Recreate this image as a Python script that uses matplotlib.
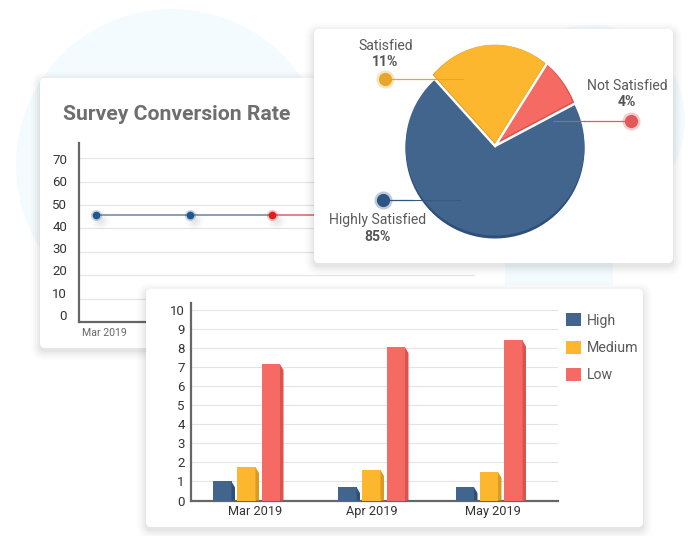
import math
import matplotlib
matplotlib.use("Agg")
import matplotlib.pyplot as plt
from matplotlib.patches import FancyBboxPatch, Ellipse, Patch
from matplotlib.transforms import Affine2D

plt.rcParams['font.family'] = ['Roboto', 'DejaVu Sans']

# ---- data ----
line_title = "Survey Conversion Rate"
line_days = [0, 31, 58, 85]
line_values = [45.8, 45.8, 45.8, 45.8]
line_point_colors = ['#24568e', '#24568e', '#d8211f', '#d8211f']
line_ticks = [0, 10, 20, 30, 40, 50, 60, 70]

pie_labels = ['Highly Satisfied', 'Not Satisfied', 'Satisfied']
pie_label_pcts = ['85%', '4%', '11%']
pie_sweep = [71.1, 8.3, 20.6]
pie_colors = ['#41658d', '#f56a63', '#fdb72e']
pie_dark = ['#2f4f78', '#d9534f', '#d99a26']

months = ['Mar 2019', 'Apr 2019', 'May 2019']
series_names = ['High', 'Medium', 'Low']
high = [1.0, 0.7, 0.7]
medium = [1.75, 1.6, 1.5]
low = [7.15, 8.05, 8.4]
group_pos = [0, 1.0, 1.94]
month_label_pos = [0.06, 0.99, 1.96]
bar_ticks = list(range(0, 11))
side_colors = ['#2f4f78', '#d99a26', '#d9534f']

W, H = 700, 536
fig = plt.figure(figsize=(7, 5.36), dpi=100, facecolor='white')


def axes_px(x0, y0, x1, y1, z):
    ax = fig.add_axes([x0 / W, 1 - y1 / H, (x1 - x0) / W, (y1 - y0) / H], zorder=z)
    ax.patch.set_alpha(0)
    return ax


def card(ax, x0, y0, x1, y1):
    for grow, alpha in [(9, .012), (7, .016), (5, .02), (3, .025), (1, .03)]:
        ax.add_patch(FancyBboxPatch((x0 - grow, y0 - grow + 3), x1 - x0 + 2 * grow, y1 - y0 + 2 * grow,
                                    boxstyle=f"round,pad=0,rounding_size={5 + grow}",
                                    fc='black', ec='none', alpha=alpha))
    ax.add_patch(FancyBboxPatch((x0, y0), x1 - x0, y1 - y0, boxstyle="round,pad=0,rounding_size=5",
                                fc='white', ec='none'))


# ---- background ----
bg = axes_px(0, 0, W, H, 0)
bg.set_xlim(0, W); bg.set_ylim(H, 0); bg.axis('off')
blob = '#f4fbfe'
bg.add_patch(Ellipse((172, 165), 312, 312, fc=blob, ec='none'))
bg.add_patch(Ellipse((590, 120), 190, 190, fc=blob, ec='none'))
bg.add_patch(plt.Rectangle((505, 230), 108, 55, fc=blob, ec='none'))
card(bg, 40, 78, 400, 348)
bg.add_patch(plt.Rectangle((390, 78), 112, 215, fc='white', ec='none'))
bg.text(63, 114, line_title, fontsize=15.2, fontweight='bold', color='#6e6e6e', va='center', ha='left')

# ---- line chart ----
ax = axes_px(79, 143, 475, 322, 1)
PX_PER_DAY = 94 / 31
ax.set_xlim(-17 / PX_PER_DAY, 379 / PX_PER_DAY)
ax.set_ylim(0, 179 / 2.34)
for s in ['top', 'right']:
    ax.spines[s].set_visible(False)
for s in ['left', 'bottom']:
    ax.spines[s].set_color('#666666'); ax.spines[s].set_linewidth(1.6)
ax.set_yticks(line_ticks[1:])
ax.set_yticklabels([])
ax.tick_params(axis='y', length=0)
ax.grid(axis='y', color='#e4e4e4', lw=0.8)
ax.set_axisbelow(True)
ax.set_xticks([8 / PX_PER_DAY])
ax.set_xticklabels(['Mar 2019'], fontsize=7.6, color='#666666')
ax.tick_params(axis='x', length=0, pad=4)
for d0, d1, v0, v1, c in zip(line_days[:-1], line_days[1:], line_values[:-1], line_values[1:],
                             ['#7d95b3', '#7d95b3', '#e07a78']):
    ax.plot([d0, d1], [v0, v1], color=c, lw=1.3, zorder=3)
for d, v, c in zip(line_days, line_values, line_point_colors):
    for grow, a in [(14, .012), (11, .018), (8, .025), (5, .03)]:
        ax.plot(d + 4 / PX_PER_DAY, v - 2.2, 'o', ms=grow, color='black', alpha=a, mew=0, zorder=2)
    ax.plot(d, v, 'o', ms=8, color=c, alpha=.25, mew=0, zorder=4)
    ax.plot(d, v, 'o', ms=5.5, color=c, mew=0, zorder=5)
# the reference's value labels sit on a tighter scale than its gridlines
lab = axes_px(79, 143, 475, 322, 1)
lab.set_xlim(0, 1); lab.set_ylim(-7 / 2.23, 172 / 2.23)
lab.set_yticks(line_ticks); lab.set_yticklabels(line_ticks, fontsize=9.5, color='#333333')
lab.set_xticks([])
lab.tick_params(axis='y', length=0, pad=8.5)
for s in lab.spines.values():
    s.set_visible(False)

# ---- cards over the line chart ----
cards = axes_px(0, 0, W, H, 2)
cards.set_xlim(0, W); cards.set_ylim(H, 0); cards.axis('off')
card(cards, 314, 29, 673, 263)
card(cards, 146, 289, 643, 527)

# ---- pie ----
pie = axes_px(495 - 120, 146 - 120, 495 + 120, 146 + 120, 3)
A, B, R_LOW = 89.0, 102.5, 89.5
LIFT = 3.2


def shape_wedges(wedges, shrink=0.0):
    """Blue is round; the two raised slices follow a taller ellipse."""
    wedges[0].set_radius(R_LOW)
    for w in wedges[1:]:
        for name in ('theta1', 'theta2'):
            t = math.radians(getattr(w, name))
            val = math.degrees(math.atan2(math.sin(t), math.cos(t) * B / A))
            getattr(w, 'set_' + name)(val % 360)
        w.set_radius(B - shrink)
        w.set_transform(Affine2D().scale(A / B, 1) + pie.transData)


# blue: a dark copy pushed down gives the rim, the face stays on the centre
blue_rim, _ = pie.pie(pie_sweep, colors=pie_dark, startangle=132, radius=1, center=(0, -3),
                      wedgeprops=dict(edgecolor='none', linewidth=0))
shape_wedges(blue_rim)
for w in blue_rim[1:]:
    w.set_visible(False)
blue_rim[0].set_zorder(1)

# white separators and dark bevels of the raised slices, then their lifted faces
bases, _ = pie.pie(pie_sweep, colors=pie_dark, startangle=132, radius=1, center=(0, 0),
                   wedgeprops=dict(edgecolor='white', linewidth=1.8))
shape_wedges(bases)
faces, _ = pie.pie(pie_sweep, colors=pie_colors, startangle=132, radius=1, center=(0, LIFT),
                   wedgeprops=dict(edgecolor='none', linewidth=0))
shape_wedges(faces, shrink=LIFT + 1.3)
faces[0].set_center((0, 0))
faces[0].set_radius(R_LOW)
bases[0].set_visible(False)
faces[0].set_zorder(2)
for i in (1, 2):
    bases[i].set_zorder(2 * i + 1)
    faces[i].set_zorder(2 * i + 2)
# the separator between blue and the raised slices
pie.set_xlim(-120, 120); pie.set_ylim(-120, 120)

over = axes_px(0, 0, W, H, 4)
over.set_xlim(0, W); over.set_ylim(H, 0); over.axis('off')
text_c = '#5a5a5a'
bold_c = '#555555'
# leaders and dots: (dot x, slice edge x, inner end x, y, colour, inner colour)
for (x0, xm, x1, y, c, ci) in [(385, 436, 463, 78.5, '#e8a52c', '#e3a52b'),
                               (631, 584, 553, 120.5, '#e2595a', '#d9534f'),
                               (383, 412, 460, 200, '#2f5583', '#38597f')]:
    over.plot([x0, xm], [y, y], color=c, lw=0.9)
    over.plot([xm, x1], [y, y], color=ci, lw=0.8)
    over.plot(x0, y, 'o', ms=13, color=c, alpha=.3, mew=0)
    over.plot(x0, y, 'o', ms=9.5, color=c, mew=0)
FS = 10.1
over.text(385.5, 45.5, pie_labels[2], fontsize=FS, color=text_c, ha='center', va='center')
over.text(385.5, 62.5, pie_label_pcts[2], fontsize=FS, color=bold_c, fontweight='bold', ha='center', va='center')
over.text(627, 85.5, pie_labels[1], fontsize=FS, color=text_c, ha='center', va='center')
over.text(627, 102.5, pie_label_pcts[1], fontsize=FS, color=bold_c, fontweight='bold', ha='center', va='center')
over.text(378, 220, pie_labels[0], fontsize=FS, color=text_c, ha='center', va='center')
over.text(378, 237, pie_label_pcts[0], fontsize=FS, color=bold_c, fontweight='bold', ha='center', va='center')

# ---- bars ----
bx = axes_px(191, 303, 558, 500.5, 3)
UNIT = 19.05
GROUP = 125.0
bx.set_ylim(0, 197.5 / UNIT)
bx.set_xlim(-57 / GROUP, 310 / GROUP)
for s in ['top', 'right']:
    bx.spines[s].set_visible(False)
for s in ['left', 'bottom']:
    bx.spines[s].set_color('#666666'); bx.spines[s].set_linewidth(1.6)
bx.set_yticks(bar_ticks)
bx.set_yticklabels(bar_ticks, fontsize=9.5, color='#333333')
bx.tick_params(axis='y', length=0, pad=4.5)
bx.grid(axis='y', color='#e4e4e4', lw=0.8)
bx.set_axisbelow(True)
bx.set_xticks(month_label_pos)
bx.set_xticklabels(months, fontsize=9.2, color='#333333')
bx.tick_params(axis='x', length=0, pad=3)
offsets = [-24 / GROUP, 0, 24.5 / GROUP]
bw = 22 / GROUP
side = 3.5 / GROUP
cham = 6 / UNIT
for vals, off, col, dark in zip([high, medium, low], offsets,
                                [pie_colors[0], pie_colors[2], pie_colors[1]], side_colors):
    lefts = [g + off - bw / 2 for g in group_pos]
    bx.bar(lefts, vals, width=bw - side, align='edge', color=col, zorder=3)
    for x, v in zip(lefts, vals):
        bx.fill([x + bw - side, x + bw, x + bw, x + bw - side], [v, v - cham, 0, 0], color=dark, lw=0, zorder=4)

handles = [Patch(fc=c, ec='none') for c in [pie_colors[0], pie_colors[2], pie_colors[1]]]
leg = fig.legend(handles, series_names, loc='upper left', bbox_to_anchor=(566 / W, 1 - 313.5 / H),
                 frameon=False, fontsize=10.2, labelcolor=text_c, handlelength=1.03, handleheight=1.03,
                 handletextpad=0.42, labelspacing=0.9, borderpad=0, borderaxespad=0)
leg.set_zorder(5)

fig.savefig('out.png', dpi=100, facecolor='white')
